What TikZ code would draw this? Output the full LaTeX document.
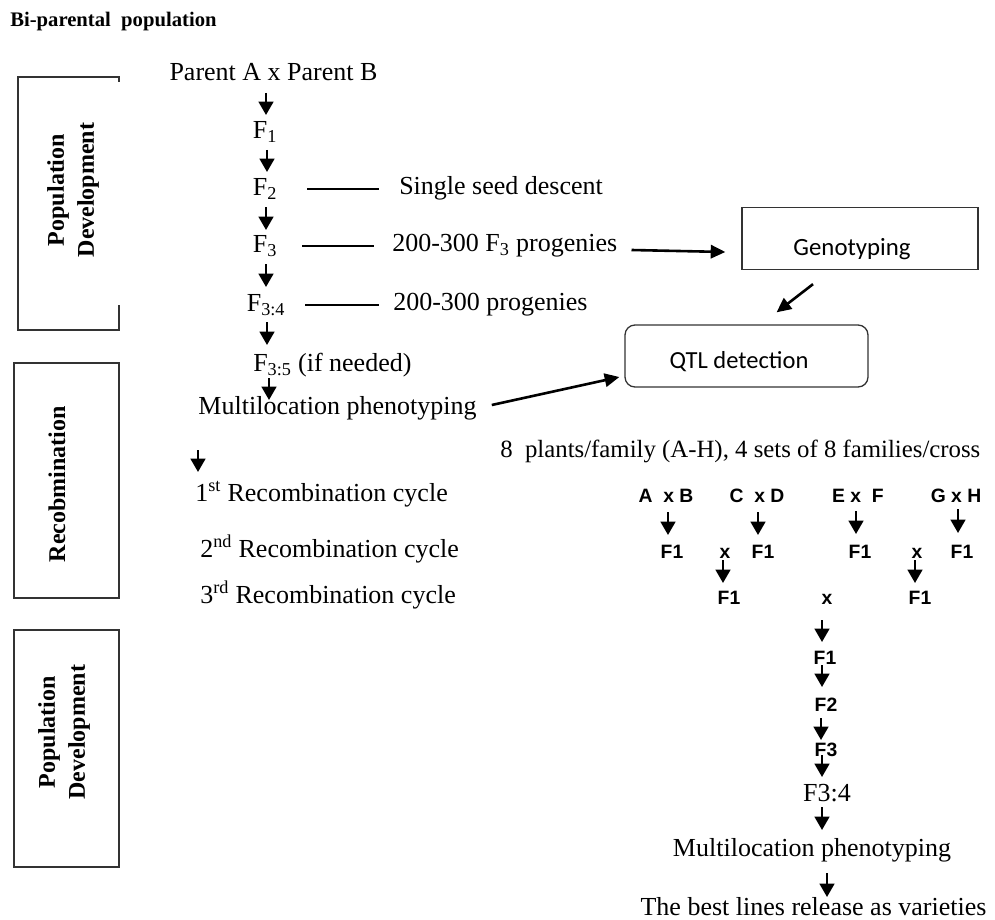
\documentclass[tikz,border=0pt]{standalone}
\usepackage{fontspec}
\setmainfont{Liberation Serif}
\newfontfamily\arialf{Liberation Sans}
\newfontfamily\calib{Carlito}
\usetikzlibrary{arrows.meta,calc}
\tikzset{
  txt/.style={inner sep=0pt, font=\fontsize{19.5}{23}\selectfont},
  sanb/.style={inner sep=0pt, font=\arialf\bfseries\fontsize{14.5}{17}\selectfont},
  lbl/.style={inner sep=0pt, rotate=90, align=center, font=\bfseries\fontsize{18}{22.5}\selectfont},
  boxline/.style={draw=black!80, line width=1.3pt*0.75},
  arr/.style={line width=2.4pt*0.75, -{Triangle[width=11pt,length=10pt]}},
  arrl/.style={line width=2.6pt*0.75, -{Triangle[width=10pt,length=11pt]}},
  thin/.style={line width=1.1pt*0.75},
}
\begin{document}
\begin{tikzpicture}[x=0.75pt,y=-0.75pt]
\useasboundingbox (0,0) rectangle (995,920);

% title
\node[inner sep=0pt, anchor=west, font=\bfseries\fontsize{15.5}{18}\selectfont] (title) at (10,22) {Bi-parental\ \ population};

% side boxes
\draw[boxline] (119,82) -- (119,77) -- (18,77) -- (18,330) -- (119,330) -- (119,305);
\node[lbl] (lab1) at (73,190) {Population\\Development};
\draw[boxline] (14,363) rectangle (119,598);
\node[lbl] (lab2) at (57,484) {Recobmination};
\draw[boxline] (14,630) rectangle (119,867);
\node[lbl] (lab3) at (64,732) {Population\\Development};

% left column
\node[txt] (pab) at (273.5,72) {Parent A x Parent B};
\node[txt] (f1) at (265,132) {F\textsubscript{1}};
\node[txt] (f2) at (265,189) {F\textsubscript{2}};
\node[txt] (f3) at (265,246) {F\textsubscript{3}};
\node[txt] (f34) at (266,305) {F\textsubscript{3:4}};
\node[txt, anchor=west] (f35) at (253,365) {F\textsubscript{3:5} (if needed)};
\node[txt] (ml) at (337.5,408) {Multilocation phenotyping};

\node[txt, anchor=west] (ssd) at (399,188) {Single seed descent};
\node[txt, anchor=west] (f3p) at (392,246) {200-300 F\textsubscript{3} progenies};
\node[txt, anchor=west] (p34) at (393,305) {200-300 progenies};

\draw[thin] (307,189) -- (379,189);
\draw[thin] (302,246) -- (374,246);
\draw[thin] (305,305) -- (379,305);

\draw[arr] (266,93) -- (266,115);
\draw[arr] (267,150) -- (267,172);
\draw[arr] (266,207) -- (266,230);
\draw[arr] (266,264) -- (266,287);
\draw[arr] (267,322) -- (267,345);
\draw[arr] (269,378) -- (269,400);

% genotyping / QTL
\node[draw=black!80, line width=1.3pt*0.75, minimum width=236*0.75pt, minimum height=62*0.75pt, inner sep=0pt] (geno) at (860,238.5) {};
\node[inner sep=0pt, font=\calib\fontsize{18.6}{22}\selectfont] (genot) at (852,249) {Genotyping};
\node[draw=black!80, line width=1.3pt*0.75, rounded corners=7.5pt, minimum width=243*0.75pt, minimum height=62*0.75pt, inner sep=0pt] (qtl) at (746.5,356) {};
\node[inner sep=0pt, font=\calib\fontsize{18.4}{22}\selectfont] (qtlt) at (739,362) {QTL detection};

\draw[arrl] ($(f3p.east)+(14,4)$) -- ($(geno.west)+(-16,13.5)$);
\draw[arrl] ($(geno.south)+(-47,14)$) -- ($(qtl.north)+(30,-12)$);
\draw[arrl] ($(ml.east)+(15,-3)$) -- ($(qtl.west)+(-5,21)$);

% recombination
\node[txt, anchor=west, font=\fontsize{18.6}{22}\selectfont] (eight) at (500,451) {8\ \ plants/family (A-H), 4 sets of 8 families/cross};
\draw[arr] (198,450) -- (198,472);
\node[txt, anchor=west] (r1) at (195,494) {1\textsuperscript{st} Recombination cycle};
\node[txt, anchor=west] (r2) at (200,549) {2\textsuperscript{nd} Recombination cycle};
\node[txt, anchor=west] (r3) at (200,595) {3\textsuperscript{rd} Recombination cycle};

% crosses
\node[sanb] (ab) at (666,496) {A\ \ x B};
\node[sanb] (cd) at (757,496) {C\ \ x D};
\node[sanb] (ef) at (858,496) {E x\ \ F};
\node[sanb] (gh) at (956,496) {G x H};

\draw[arr] (668,512) -- (668,535);
\draw[arr] (758,512) -- (758,535);
\draw[arr] (856,511) -- (856,534);
\draw[arr] (958,509) -- (958,533);

\node[sanb] (f1a) at (672,552) {F1};
\node[sanb] (xa) at (725,553) {x};
\node[sanb] (f1b) at (763,552) {F1};
\node[sanb] (f1c) at (860,552) {F1};
\node[sanb] (xb) at (917,553) {x};
\node[sanb] (f1d) at (962,552) {F1};

\draw[arr] (723,560) -- (723,583);
\draw[arr] (915,560) -- (915,583);

\node[sanb] (f1e) at (729,598) {F1};
\node[sanb] (xc) at (827,599) {x};
\node[sanb] (f1f) at (920,598) {F1};

% final column
\draw[arr] (822,620) -- (822,642);
\node[sanb] (g1) at (825,658) {F1};
\draw[arr] (822,665) -- (822,687);
\node[sanb] (g2) at (826,705) {F2};
\draw[arr] (821,718) -- (821,740);
\node[sanb] (g3) at (826,750) {F3};
\draw[arr] (822,755) -- (822,777);
\node[txt] (g34) at (827,793) {F3:4};
\draw[arr] (822,807) -- (822,830);
\node[txt] (ml2) at (812,850) {Multilocation phenotyping};
\draw[arr] (827,873) -- (827,897);
\node[txt] (best) at (813.5,907) {The best lines release as varieties};
\end{tikzpicture}
\end{document}
